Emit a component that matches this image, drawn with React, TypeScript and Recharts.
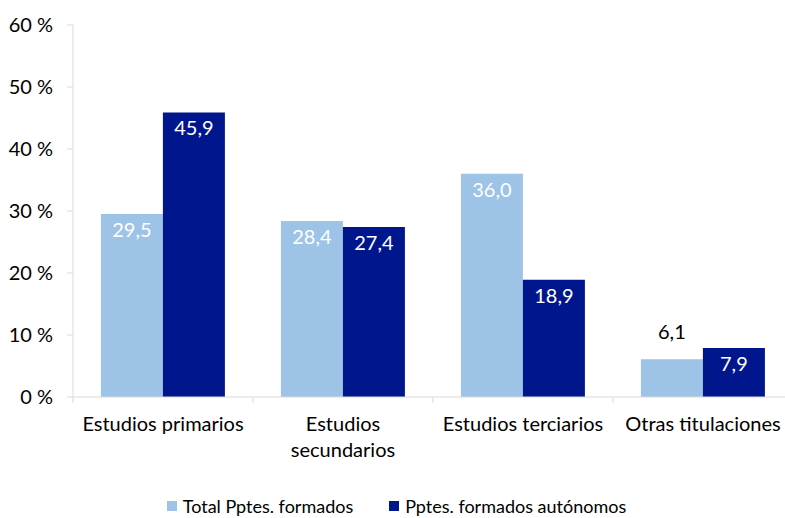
import { Bar, BarChart, Legend, LabelList, XAxis, YAxis } from "recharts";

const categories = [
  "Estudios primarios",
  "Estudios\nsecundarios",
  "Estudios terciarios",
  "Otras titulaciones",
];
const totalFormados = [29.5, 28.4, 36.0, 6.1];
const autonomos = [45.9, 27.4, 18.9, 7.9];
const yTicks = [0, 10, 20, 30, 40, 50, 60];

const FONT = "Lato, 'Liberation Sans', sans-serif";
const FS = 20;
const LIGHT = "#9dc3e6";
const DARK = "#00168c";
const AXIS = "#d9d9d9";

const series = [
  { key: "total", name: "Total Pptes. formados", color: LIGHT },
  { key: "autonomos", name: "Pptes. formados autónomos", color: DARK },
];

const rows = categories.map((name, i) => ({
  name,
  total: totalFormados[i],
  autonomos: autonomos[i],
}));

const fmt = (v: number) => v.toFixed(1).replace(".", ",");

const PLOT_LEFT = 73;
const PLOT_RIGHT = 793;
const BAND = (PLOT_RIGHT - PLOT_LEFT) / categories.length;

const CategoryTick = (props: any) => {
  const { x, y, payload, index } = props;
  const lines = String(payload.value).split("\n");
  return (
    <g>
      {index === 0 && (
        <line x1={x - BAND / 2} x2={x - BAND / 2} y1={y - 8} y2={y - 2} stroke={AXIS} />
      )}
      <line x1={x + BAND / 2} x2={x + BAND / 2} y1={y - 8} y2={y - 2} stroke={AXIS} />
      <text x={x} y={y + 26} textAnchor="middle" fill="#000" fontSize={FS} fontFamily={FONT}>
        {lines.map((line, i) => (
          <tspan key={i} x={x} dy={i === 0 ? 0 : 26}>
            {line}
          </tspan>
        ))}
      </text>
    </g>
  );
};

// short bars get their label above, in black
const ValueLabel = (props: any) => {
  const { x, y, width, value } = props;
  const inside = value > 7;
  return (
    <text
      x={x + width / 2}
      y={inside ? y + 23 : y - 20}
      textAnchor="middle"
      fill={inside ? "#fff" : "#000"}
      fontSize={FS}
      fontFamily={FONT}
    >
      {fmt(value)}
    </text>
  );
};

const LegendContent = () => (
  <div
    style={{
      display: "flex",
      justifyContent: "center",
      gap: 36,
      fontFamily: FONT,
      fontSize: 18,
      color: "#000",
      lineHeight: "24px",
    }}
  >
    {series.map((s) => (
      <div key={s.key} style={{ display: "flex", alignItems: "center" }}>
        <span style={{ width: 10, height: 10, background: s.color, marginRight: 6 }} />
        <span>{s.name}</span>
      </div>
    ))}
  </div>
);

export default function App() {
  return (
    <div style={{ position: "absolute", left: 0, top: 0, width: 785, height: 518, overflow: "hidden", background: "#fff" }}>
      <BarChart
        width={800}
        height={518}
        data={rows}
        margin={{ top: 25, right: 7, bottom: 0, left: 0 }}
        barCategoryGap="15.5%"
        barGap={0}
      >
        <YAxis
          width={73}
          domain={[0, 60]}
          ticks={yTicks}
          tickFormatter={(v) => `${v} %`}
          tick={{ fill: "#000", fontSize: FS, fontFamily: FONT }}
          stroke={AXIS}
          tickSize={6}
          tickMargin={14}
        />
        <XAxis
          dataKey="name"
          stroke={AXIS}
          tickLine={false}
          height={97}
          interval={0}
          tick={<CategoryTick />}
        />
        <Legend verticalAlign="bottom" content={<LegendContent />} wrapperStyle={{ paddingBottom: 0 }} />
        {series.map((s) => (
          <Bar key={s.key} dataKey={s.key} name={s.name} fill={s.color} isAnimationActive={false}>
            <LabelList dataKey={s.key} content={<ValueLabel />} />
          </Bar>
        ))}
      </BarChart>
    </div>
  );
}
